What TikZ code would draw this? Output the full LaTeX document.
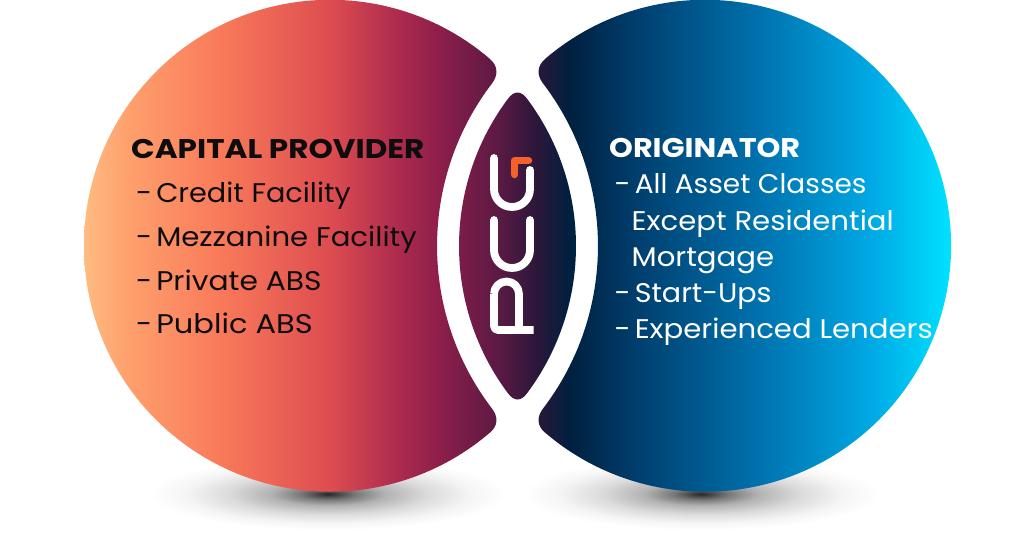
\documentclass[tikz,border=0pt]{standalone}
\usepackage{graphicx}
\usepackage{fontspec}
\setmainfont{Poppins}[FakeStretch=1.08,BoldFeatures={FakeStretch=1.15}]
\definecolor{g0}{HTML}{FFBB80}
\definecolor{g1}{HTML}{FE9F6C}
\definecolor{g2}{HTML}{F97A5A}
\definecolor{g3}{HTML}{DD4C50}
\definecolor{g4}{HTML}{AC2A4E}
\definecolor{g5}{HTML}{8C1E4A}
\definecolor{g6}{HTML}{5C1A44}
\definecolor{g7}{HTML}{2A173A}
\definecolor{g8}{HTML}{00203F}
\definecolor{g9}{HTML}{004070}
\definecolor{g10}{HTML}{0072AE}
\definecolor{g11}{HTML}{00A8E4}
\definecolor{g12}{HTML}{00E2FF}
\definecolor{mark}{HTML}{F4612A}
\pgfdeclarehorizontalshading{band}{100bp}{
 color(0bp)=(g0); color(25bp)=(g0); color(27.65bp)=(g1); color(32.85bp)=(g2); color(39.2bp)=(g3);
 color(43.2bp)=(g4); color(45.55bp)=(g5); color(48.8bp)=(g6); color(51.15bp)=(g7);
 color(53bp)=(g8); color(57.05bp)=(g9); color(64bp)=(g10); color(70.35bp)=(g11); color(75bp)=(g12); color(100bp)=(g12)}
\pgfdeclareradialshading{floorshadow}{\pgfpoint{0bp}{0bp}}{
 color(0bp)=(black!85); color(1.5bp)=(black!72); color(4bp)=(black!52); color(8bp)=(black!30);
 color(14bp)=(black!14); color(20bp)=(black!4); color(25bp)=(white); color(100bp)=(white)}
\tikzset{
 line/.style={anchor=base west,inner sep=0pt,font=\fontsize{27}{27}\selectfont},
 head/.style={anchor=base west,inner sep=0pt,font=\fontsize{27}{27}\selectfont\bfseries},
 dark/.style={text=black!95},
 light/.style={text=white},
 logo/.style={draw=white,line width=7.8pt,line cap=round,line join=round}
}
\newcommand{\dashgap}{-\hspace{4pt}}
\newcommand{\sx}[2]{\scalebox{#1}[1]{#2}}
\begin{document}
\begin{tikzpicture}[x=1pt,y=-1pt]
\useasboundingbox (0,0) rectangle (1024,541);
\fill[white] (0,0) rectangle (1024,541);
\shade[shading=floorshadow] (328,494) ellipse [x radius=178,y radius=36];
\shade[shading=floorshadow] (701,494) ellipse [x radius=178,y radius=36];
\begin{scope}
\clip
 (490,59) arc [start angle=-49.4,end angle=-310.6,radius=246]
 .. controls (498,426) and (498.3,417) .. (492.3,409)
 arc [start angle=142.54,end angle=217.46,radius=268]
 .. controls (498.3,75) and (498,66) .. (490,59) -- cycle
 (545,59) arc [start angle=229.4,end angle=490.6,radius=246]
 .. controls (537,426) and (536.7,417) .. (542.7,409)
 arc [start angle=37.46,end angle=-37.46,radius=268]
 .. controls (536.7,75) and (537,66) .. (545,59) -- cycle
 (507,392) arc [start angle=143.6,end angle=216.4,radius=246]
 .. controls (511,94.5) and (514,92.5) .. (517.5,92.5)
 .. controls (521,92.5) and (524,94.5) .. (528,100)
 arc [start angle=-36.4,end angle=36.4,radius=246]
 .. controls (524,397.5) and (521,399.5) .. (517.5,399.5)
 .. controls (514,399.5) and (511,397.5) .. (507,392) -- cycle;
\shade[shading=band] (84,0) rectangle (951,500);
\end{scope}
% logo
\draw[logo] (494,158) -- (494,189) arc [start angle=180,end angle=0,radius=18] -- (530,170);
\draw[logo] (494,220) -- (494,250) arc [start angle=180,end angle=0,radius=18] -- (530,220);
\draw[logo,line cap=butt,rounded corners=4pt] (533.5,330) -- (494,330) -- (494,294);
\draw[logo,line cap=butt] (494,294) arc [start angle=180,end angle=360,radius=12.5] -- (519,330);
\draw[draw=mark,line width=7.5pt,line cap=round,line join=round] (514.5,174.5) -- (514.5,160.7) -- (528.5,160.7);
% text
\node[head,dark] (cp) at (131,158) {CAPITAL PROVIDER};
\node[line,dark] (c1) at (136,202) {\dashgap\sx{.985}{Credit Facility}};
\node[line,dark] (c2) at (136,246) {\dashgap Mezzanine Facility};
\node[line,dark] (c3) at (136,290.3) {\dashgap\sx{1.02}{Private ABS}};
\node[line,dark] (c4) at (136,333.5) {\dashgap\sx{1.045}{Public ABS}};
\node[head,light] (or) at (609,157.3) {\sx{.975}{ORIGINATOR}};
\node[line,light] (o1) at (614.5,193.5) {\dashgap\sx{.96}{All Asset Classes}};
\node[line,light] (o2) at (631.5,230.5) {Except Residential};
\node[line,light] (o3) at (631.5,266.4) {Mortgage};
\node[line,light] (o4) at (614.5,302.4) {\dashgap\sx{.98}{Start-Ups}};
\node[line,light] (o5) at (614.5,338.4) {\dashgap Experienced Lenders};
\end{tikzpicture}
\end{document}
